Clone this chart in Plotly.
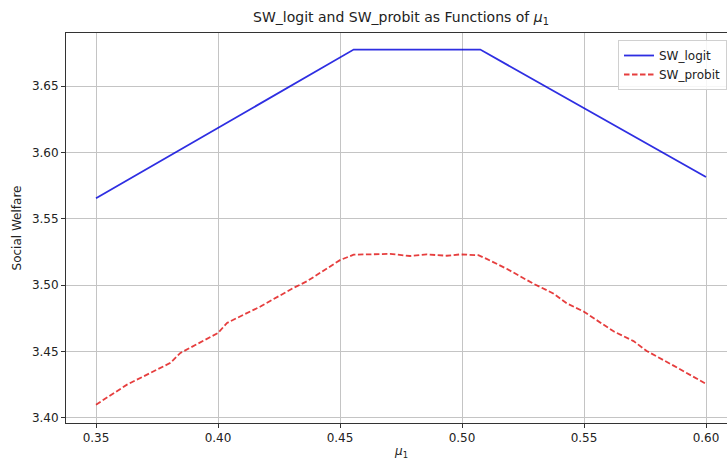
import plotly.graph_objects as go

# Data
mu1_logit = [0.35, 0.40, 0.45, 0.4556, 0.48, 0.5075, 0.510, 0.55, 0.60]
sw_logit = [3.5655, 3.6185, 3.6715, 3.6775, 3.6775, 3.6775, 3.6749, 3.6333, 3.5815]

mu1_probit = [0.35, 0.3627, 0.3805, 0.3846, 0.40, 0.4037, 0.4174, 0.431, 0.4365, 0.45,
              0.4556, 0.4620, 0.4705, 0.4787, 0.4855, 0.4937, 0.4992, 0.5067, 0.5101,
              0.5183, 0.5292, 0.5374, 0.5429, 0.55, 0.5621, 0.5703, 0.5757, 0.5867, 0.60]
sw_probit = [3.4100, 3.4251, 3.4415, 3.4490, 3.4640, 3.4716, 3.4840, 3.4980, 3.5030, 3.5189,
             3.5230, 3.5234, 3.5236, 3.5220, 3.5232, 3.5222, 3.5232, 3.5226, 3.5198,
             3.5124, 3.5012, 3.4938, 3.4864, 3.4800, 3.4653, 3.4579, 3.4505, 3.4394, 3.4257]

x_ticks = [0.35, 0.40, 0.45, 0.50, 0.55, 0.60]
y_ticks = [3.40, 3.45, 3.50, 3.55, 3.60, 3.65]

FONT = "DejaVu Sans"

fig = go.Figure()
fig.add_trace(go.Scatter(x=mu1_logit, y=sw_logit, mode="lines", name="SW_logit",
                         line=dict(color="rgba(0,0,220,0.82)", width=1.8)))
fig.add_trace(go.Scatter(x=mu1_probit, y=sw_probit, mode="lines", name="SW_probit",
                         line=dict(color="rgba(225,20,20,0.82)", width=1.8, dash="5.5px,2.5px")))

fig.update_layout(
    width=727, height=460,
    margin=dict(l=66, r=0, t=33, b=37, autoexpand=False),
    paper_bgcolor="white", plot_bgcolor="white",
    font=dict(family=FONT, size=12, color="#222"),
    title=dict(text="SW_logit and SW_probit as Functions of <i>μ</i><sub>1</sub>",
               x=401/727, xanchor="center", xref="container",
               y=1 - 17/460, yanchor="middle", yref="container",
               font=dict(family=FONT, size=14, color="#222")),
    showlegend=True,
    legend=dict(x=1.0, y=(423-40)/390, xanchor="right", yanchor="top",
                bgcolor="rgba(255,255,255,0.85)", bordercolor="#d0d0d0", borderwidth=1,
                font=dict(family=FONT, size=12, color="#222"),
                itemwidth=30, tracegroupgap=0),
)

fig.update_xaxes(range=[0.3377, 0.35 + (727-96)/2440], tickvals=x_ticks,
                 ticktext=[f"{v:.2f}" for v in x_ticks],
                 tickfont=dict(family=FONT, size=12, color="#222"),
                 showgrid=True, gridcolor="#c4c4c4", gridwidth=1, automargin=False,
                 showline=True, linecolor="#333", linewidth=1, mirror=True,
                 ticks="outside", ticklen=4, tickcolor="#333", zeroline=False)
fig.update_yaxes(range=[3.3962, 3.6900], tickvals=y_ticks,
                 ticktext=[f"{v:.2f}" for v in y_ticks],
                 tickfont=dict(family=FONT, size=12, color="#222"),
                 showgrid=True, gridcolor="#c4c4c4", gridwidth=1, automargin=False,
                 showline=True, linecolor="#333", linewidth=1, mirror=False,
                 ticks="outside", ticklen=4, tickcolor="#333", zeroline=False,
                 title=dict(text="Social Welfare", standoff=7,
                            font=dict(family=FONT, size=12, color="#222")))

fig.add_annotation(text="<i>μ</i><sub>1</sub>", x=0.475, xref="x",
                   y=-(452-423)/390, yref="paper", yanchor="middle", showarrow=False,
                   font=dict(family=FONT, size=12, color="#222"))

fig.write_html("out.html")
